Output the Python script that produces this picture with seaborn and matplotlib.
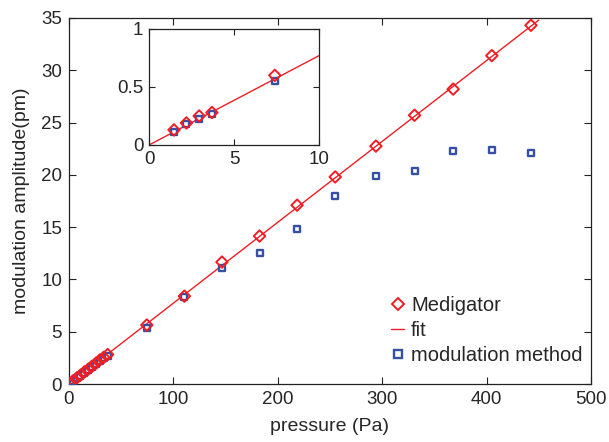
import matplotlib
matplotlib.use("Agg")
import matplotlib.pyplot as plt
from matplotlib.lines import Line2D
import seaborn as sns
import pandas as pd

# ---- data ----
pressure = [0.0, 3.7, 7.4, 11.0, 14.7, 18.4, 22.0, 25.7, 29.5, 33.2, 37.0,
            74.5, 110.5, 146.5, 182.5, 218.5, 255.0, 294.0, 331.0, 368.0, 405.0, 442.5]
medigator = [0.02, 0.29, 0.58, 0.85, 1.15, 1.42, 1.70, 1.98, 2.30, 2.55, 2.82,
             5.64, 8.40, 11.66, 14.15, 17.10, 19.80, 22.75, 25.70, 28.20, 31.40, 34.30]
modulation = [0.01, 0.26, 0.54, 0.80, 1.10, 1.38, 1.65, 1.95, 2.20, 2.50, 2.70,
              5.35, 8.30, 11.10, 12.50, 14.80, 18.00, 19.90, 20.40, 22.25, 22.40, 22.10]
fit_x = [0.0, 450.0]
fit_y = [0.0, 34.8]

inset_pressure = [1.47, 2.2, 2.95, 3.7, 7.4]
inset_medigator = [0.13, 0.19, 0.25, 0.28, 0.60]
inset_modulation = [0.11, 0.18, 0.22, 0.27, 0.55]
inset_fit_x = [0.0, 10.0]
inset_fit_y = [0.0, 0.77]

xticks = [0, 100, 200, 300, 400, 500]
yticks = [0, 5, 10, 15, 20, 25, 30, 35]
inset_xticks = [0, 5, 10]
inset_yticks = [0, 0.5, 1]
inset_yticklabels = ["0", "0.5", "1"]

RED = "#f01e24"
BLUE = "#3550a5"
FS = 13.5

sns.set_style("ticks")
plt.rcParams["font.family"] = ["Liberation Sans", "DejaVu Sans"]

fig = plt.figure(figsize=(6.09, 4.42), dpi=100)
ax = fig.add_axes([0.1133, 0.1312, 0.8571, 0.8281])

df = pd.DataFrame({"p": pressure, "med": medigator, "mod": modulation})
dfit = pd.DataFrame({"x": fit_x, "y": fit_y})

sns.lineplot(data=dfit, x="x", y="y", ax=ax, color=RED, lw=1.0, zorder=2)
sns.scatterplot(data=df, x="p", y="mod", ax=ax, marker="s", s=24,
                facecolor="white", edgecolor=BLUE, linewidth=1.7, zorder=3)
sns.scatterplot(data=df, x="p", y="med", ax=ax, marker="D", s=34,
                facecolor="none", edgecolor=RED, linewidth=1.4, zorder=4)

ax.set_xlim(0, 500)
ax.set_ylim(0, 35)
ax.set_xticks(xticks)
ax.set_yticks(yticks)
ax.set_xlabel("pressure (Pa)", fontsize=14, labelpad=7)
ax.set_ylabel("modulation amplitude(pm)", fontsize=14, labelpad=8)
ax.tick_params(direction="in", top=True, right=True, labelsize=FS,
               length=5, width=0.8, color="#222222", pad=5)
for s in ax.spines.values():
    s.set_linewidth(0.9)
    s.set_color("#222222")
    s.set_visible(True)

handles = [
    Line2D([], [], ls="none", marker="D", markersize=6.3, markerfacecolor="none",
           markeredgecolor=RED, markeredgewidth=1.4),
    Line2D([], [], color=RED, lw=1.0),
    Line2D([], [], ls="none", marker="s", markersize=5.3, markerfacecolor="white",
           markeredgecolor=BLUE, markeredgewidth=1.7),
]
fig.legend(handles, ["Medigator", "fit", "modulation method"], loc="upper left",
           frameon=False, prop={"size": 14.5}, handlelength=0.65, handletextpad=0.35,
           labelspacing=0.3, borderpad=0, borderaxespad=0,
           bbox_to_anchor=(391 / 609, 1 - 296 / 442))

# ---- inset ----
axi = fig.add_axes([0.2447, 0.672, 0.2791, 0.2624])
di = pd.DataFrame({"p": inset_pressure, "med": inset_medigator, "mod": inset_modulation})
dif = pd.DataFrame({"x": inset_fit_x, "y": inset_fit_y})
sns.lineplot(data=dif, x="x", y="y", ax=axi, color=RED, lw=1.0, zorder=2)
sns.scatterplot(data=di, x="p", y="mod", ax=axi, marker="s", s=24,
                facecolor="white", edgecolor=BLUE, linewidth=1.7, zorder=3)
sns.scatterplot(data=di, x="p", y="med", ax=axi, marker="D", s=34,
                facecolor="none", edgecolor=RED, linewidth=1.4, zorder=4)
axi.set_xlim(0, 10)
axi.set_ylim(0, 1)
axi.set_xticks(inset_xticks)
axi.set_yticks(inset_yticks)
axi.set_yticklabels(inset_yticklabels)
axi.set_xlabel("")
axi.set_ylabel("")
axi.tick_params(direction="in", top=True, right=True, labelsize=FS,
                length=4, width=0.8, color="#222222", pad=4)
for s in axi.spines.values():
    s.set_linewidth(0.9)
    s.set_color("#222222")
    s.set_visible(True)

fig.savefig("out.png", dpi=100)
